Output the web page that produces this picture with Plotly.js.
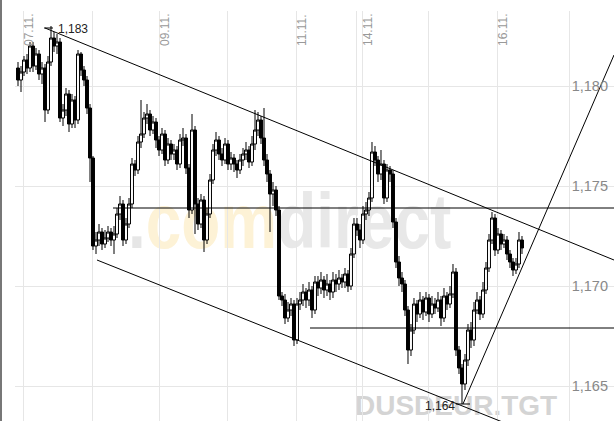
<!DOCTYPE html>
<html>
<head>
<meta charset="utf-8">
<script src="https://cdn.plot.ly/plotly-3.0.1.min.js"></script>
<style>
  html, body { margin:0; padding:0; background:#fff; }
  #wrap { position:relative; width:614px; height:421px; overflow:hidden; background:#fff; }
  #wm { position:absolute; left:0; top:0; width:614px; height:421px; z-index:0; font-family:"Liberation Sans", Arial, sans-serif; font-weight:bold; }
  #chart { position:absolute; left:0; top:0; width:614px; height:421px; z-index:1; }
  #border { position:absolute; left:0; top:0; width:2px; height:421px; background:#777; z-index:2; }
  .wmtext { position:absolute; white-space:nowrap; line-height:1; }
</style>
</head>
<body>
<div id="wrap">
  <div id="wm">
    <span class="wmtext" style="left:128px;top:183px;font-size:77px;transform:scaleX(0.83);transform-origin:left top;"><span style="color:#e6e6e6;">.</span><span style="color:#fdf2d6;">com</span><span style="color:#e8e8e8;">direct</span></span>
    <span class="wmtext" style="left:355px;top:392px;font-size:28px;color:#d4d4d4;">DUSDEUR.TGT</span>
  </div>
  <div id="chart"></div>
  <div id="border"></div>
</div>
<script>
// ---- OHLC data (EUR/USD style quotes, hourly-ish candles) ----
const open = [
1.1809,1.1803,1.1807,1.1813,1.1809,1.1820,1.1810,1.1816,1.1806,1.1809,
1.1788,1.1812,1.1824,1.1820,1.1822,1.1784,1.1788,1.1796,1.1781,1.1793,
1.1783,1.1816,1.1808,1.1803,1.1789,1.1764,1.1720,1.1723,1.1727,1.1721,
1.1724,1.1727,1.1723,1.1726,1.1736,1.1741,1.1723,1.1731,1.1741,1.1761,
1.1758,1.1772,1.1776,1.1784,1.1786,1.1778,1.1782,1.1773,1.1768,1.1776,
1.1763,1.1771,1.1766,1.1768,1.1761,1.1773,1.1774,1.1759,1.1738,1.1778,
1.1741,1.1731,1.1743,1.1723,1.1736,1.1753,1.1768,1.1773,1.1766,1.1763,
1.1771,1.1761,1.1764,1.1761,1.1758,1.1763,1.1766,1.1768,1.1762,1.1771,
1.1778,1.1783,1.1774,1.1763,1.1756,1.1746,1.1748,1.1738,1.1695,1.1693,
1.1684,1.1688,1.1691,1.1673,1.1691,1.1693,1.1697,1.1693,1.1698,1.1688,
1.1702,1.1699,1.1703,1.1698,1.1701,1.1697,1.1703,1.1701,1.1704,1.1702,
1.1706,1.1700,1.1716,1.1731,1.1728,1.1723,1.1736,1.1738,1.1744,1.1767,
1.1763,1.1756,1.1761,1.1744,1.1758,1.1756,1.1732,1.1712,1.1704,1.1701,
1.1688,1.1668,1.1678,1.1691,1.1686,1.1693,1.1687,1.1694,1.1686,1.1691,
1.1689,1.1693,1.1684,1.1695,1.1691,1.1696,1.1707,1.1668,1.1659,1.1651,
1.1663,1.1678,1.1673,1.1688,1.1693,1.1686,1.1698,1.1709,1.1723,1.1734,
1.1718,1.1726,1.1721,1.1723,1.1716,1.1712,1.1708,1.1711,1.1723
];
const high = [
1.1812,1.1810,1.1815,1.1816,1.1822,1.1822,1.1819,1.1818,1.1812,1.1811,
1.1815,1.1830,1.1827,1.1826,1.1824,1.1791,1.1799,1.1798,1.1796,1.1795,
1.1818,1.1817,1.1810,1.1805,1.1791,1.1765,1.1727,1.1731,1.1729,1.1728,
1.1730,1.1729,1.1730,1.1739,1.1745,1.1743,1.1734,1.1744,1.1764,1.1763,
1.1775,1.1793,1.1787,1.1791,1.1788,1.1785,1.1784,1.1775,1.1779,1.1778,
1.1774,1.1773,1.1771,1.1770,1.1776,1.1779,1.1776,1.1761,1.1786,1.1780,
1.1744,1.1746,1.1745,1.1739,1.1756,1.1771,1.1777,1.1775,1.1769,1.1774,
1.1773,1.1767,1.1766,1.1763,1.1766,1.1769,1.1772,1.1770,1.1775,1.1788,
1.1787,1.1785,1.1789,1.1766,1.1758,1.1752,1.1750,1.1740,1.1697,1.1696,
1.1692,1.1694,1.1693,1.1694,1.1697,1.1701,1.1699,1.1702,1.1700,1.1705,
1.1705,1.1707,1.1705,1.1706,1.1703,1.1707,1.1706,1.1708,1.1706,1.1709,
1.1708,1.1719,1.1734,1.1734,1.1731,1.1740,1.1742,1.1747,1.1772,1.1770,
1.1765,1.1768,1.1763,1.1761,1.1760,1.1758,1.1734,1.1715,1.1707,1.1703,
1.1690,1.1681,1.1694,1.1693,1.1697,1.1695,1.1697,1.1696,1.1695,1.1694,
1.1697,1.1695,1.1699,1.1697,1.1700,1.1711,1.1709,1.1670,1.1661,1.1666,
1.1681,1.1682,1.1692,1.1697,1.1695,1.1702,1.1712,1.1726,1.1737,1.1736,
1.1729,1.1728,1.1726,1.1725,1.1718,1.1714,1.1714,1.1727,1.1725
];
const low = [
1.1800,1.1797,1.1805,1.1806,1.1807,1.1807,1.1808,1.1803,1.1801,1.1782,
1.1786,1.1810,1.1817,1.1816,1.1782,1.1780,1.1785,1.1777,1.1779,1.1779,
1.1781,1.1805,1.1800,1.1786,1.1752,1.1718,1.1716,1.1720,1.1718,1.1719,
1.1722,1.1720,1.1716,1.1724,1.1733,1.1720,1.1721,1.1729,1.1739,1.1755,
1.1756,1.1769,1.1774,1.1781,1.1775,1.1776,1.1769,1.1765,1.1766,1.1760,
1.1761,1.1763,1.1763,1.1758,1.1759,1.1770,1.1756,1.1734,1.1736,1.1726,
1.1728,1.1729,1.1717,1.1721,1.1734,1.1751,1.1765,1.1763,1.1760,1.1761,
1.1758,1.1758,1.1757,1.1754,1.1756,1.1760,1.1763,1.1759,1.1760,1.1768,
1.1775,1.1771,1.1760,1.1752,1.1727,1.1740,1.1735,1.1693,1.1690,1.1681,
1.1682,1.1685,1.1670,1.1671,1.1688,1.1690,1.1689,1.1690,1.1684,1.1686,
1.1695,1.1696,1.1694,1.1695,1.1693,1.1694,1.1697,1.1698,1.1699,1.1699,
1.1697,1.1698,1.1714,1.1725,1.1719,1.1721,1.1733,1.1735,1.1742,1.1760,
1.1752,1.1753,1.1741,1.1742,1.1752,1.1729,1.1709,1.1700,1.1697,1.1685,
1.1661,1.1665,1.1676,1.1682,1.1684,1.1683,1.1685,1.1682,1.1684,1.1686,
1.1687,1.1680,1.1682,1.1688,1.1689,1.1694,1.1665,1.1656,1.1641,1.1648,
1.1660,1.1669,1.1670,1.1686,1.1683,1.1684,1.1696,1.1707,1.1721,1.1715,
1.1716,1.1718,1.1719,1.1713,1.1709,1.1705,1.1706,1.1709,1.1716
];
const close = [
1.1803,1.1807,1.1813,1.1809,1.1820,1.1810,1.1816,1.1806,1.1809,1.1788,
1.1812,1.1824,1.1820,1.1822,1.1784,1.1788,1.1796,1.1781,1.1793,1.1783,
1.1816,1.1808,1.1803,1.1789,1.1764,1.1720,1.1723,1.1727,1.1721,1.1724,
1.1727,1.1723,1.1726,1.1736,1.1741,1.1723,1.1731,1.1741,1.1761,1.1758,
1.1772,1.1776,1.1784,1.1786,1.1778,1.1782,1.1773,1.1768,1.1776,1.1763,
1.1771,1.1766,1.1768,1.1761,1.1773,1.1774,1.1759,1.1738,1.1778,1.1741,
1.1731,1.1743,1.1723,1.1736,1.1753,1.1768,1.1773,1.1766,1.1763,1.1771,
1.1761,1.1764,1.1761,1.1758,1.1763,1.1766,1.1768,1.1762,1.1771,1.1778,
1.1783,1.1774,1.1763,1.1756,1.1746,1.1748,1.1738,1.1695,1.1693,1.1684,
1.1688,1.1691,1.1673,1.1691,1.1693,1.1697,1.1693,1.1698,1.1688,1.1702,
1.1699,1.1703,1.1698,1.1701,1.1697,1.1703,1.1701,1.1704,1.1702,1.1706,
1.1700,1.1716,1.1731,1.1728,1.1723,1.1736,1.1738,1.1744,1.1767,1.1763,
1.1756,1.1761,1.1744,1.1758,1.1756,1.1732,1.1712,1.1704,1.1701,1.1688,
1.1668,1.1678,1.1691,1.1686,1.1693,1.1687,1.1694,1.1686,1.1691,1.1689,
1.1693,1.1684,1.1695,1.1691,1.1696,1.1707,1.1668,1.1659,1.1651,1.1663,
1.1678,1.1673,1.1688,1.1693,1.1686,1.1698,1.1709,1.1723,1.1734,1.1718,
1.1726,1.1721,1.1723,1.1716,1.1712,1.1708,1.1711,1.1723,1.1719
];

// ---- day separators and labels (candle-index positions) ----
const dayGrid = [1.67, 24.67, 47, 69.67, 92.67, 113, 114.67, 137, 159.67, 183.67];
const dateLabels = ['07.11.', '09.11.', '11.11.', '14.11.', '16.11.'];
const dateLabelPos = [1.67, 47, 92.67, 114.67, 159.67];
const yTicks = [1.165, 1.170, 1.175, 1.180];

// ---- drawn analysis lines (candle index, price) ----
const upperTrendX = [9, 198.67],      upperTrendY = [1.1829, 1.1713];
const lowerTrendX = [26.33, 164],     lowerTrendY = [1.1713, 1.16305];
const supportX    = [148.33, 198.67], supportY    = [1.1641, 1.18155];
const level1X     = [31.67, 198.67],  level1Y     = [1.1739, 1.1739];
const level2X     = [97.33, 198.67],  level2Y     = [1.1679, 1.1679];
const highMarkX   = [8.67, 11.67],    highMarkY   = [1.1829, 1.1829];
const lowMarkX    = [146, 150.67],    lowMarkY    = [1.1641, 1.1641];
const extremeLabels = ['1,183', '1,164'];
const extremeLabelX = [12.5, 146.3];
const extremeLabelY = [1.18285, 1.1640];

const xIdx = close.map((_, i) => i);

function line(x, y) {
  return { type:'scatter', mode:'lines', x:x, y:y, hoverinfo:'skip', showlegend:false,
           line:{ color:'#000', width:1 } };
}

const traces = [
  {
    type:'candlestick', x:xIdx, open:open, high:high, low:low, close:close,
    increasing:{ line:{ color:'#000', width:1 }, fillcolor:'#ffffff' },
    decreasing:{ line:{ color:'#000', width:1 }, fillcolor:'#000000' },
    whiskerwidth:0, hoverinfo:'skip', showlegend:false
  },
  line(upperTrendX, upperTrendY),
  line(lowerTrendX, lowerTrendY),
  line(supportX, supportY),
  line(level1X, level1Y),
  line(level2X, level2Y),
  line(highMarkX, highMarkY),
  line(lowMarkX, lowMarkY)
];

const annotations = [];
dateLabels.forEach((t, i) => {
  annotations.push({ text:t, xref:'x', x:dateLabelPos[i], yref:'paper', y:1, xanchor:'center', yanchor:'top',
    xshift:6, yshift:-1, textangle:-90, showarrow:false,
    font:{ family:'Liberation Sans, Arial, sans-serif', size:12, color:'#999' } });
});
annotations.push({ text:extremeLabels[0], xref:'x', x:extremeLabelX[0], yref:'y', y:extremeLabelY[0],
  xanchor:'left', yanchor:'middle', showarrow:false,
  font:{ family:'Liberation Sans, Arial, sans-serif', size:12, color:'#222' } });
annotations.push({ text:extremeLabels[1], xref:'x', x:extremeLabelX[1], yref:'y', y:extremeLabelY[1],
  xanchor:'right', yanchor:'middle', showarrow:false,
  font:{ family:'Liberation Sans, Arial, sans-serif', size:12, color:'#222' } });

const layout = {
  width:614, height:421,
  margin:{ l:15, r:0, t:11, b:0, pad:0 },
  paper_bgcolor:'rgba(0,0,0,0)', plot_bgcolor:'rgba(0,0,0,0)',
  separators:',.',
  showlegend:false,
  dragmode:false,
  boxgap:0.02, boxgroupgap:0,
  xaxis:{
    range:[-1, 198.67], tickmode:'array', tickvals:dayGrid, showticklabels:false,
    showgrid:true, gridcolor:'#e6e6e6', gridwidth:1, zeroline:false, showline:false, ticks:'',
    rangeslider:{ visible:false }, fixedrange:true
  },
  yaxis:{
    range:[1.16325, 1.18375], side:'right', tickmode:'array', tickvals:yTicks, tickformat:'.3f',
    ticklabelposition:'inside', ticks:'', ticklabelstandoff:3,
    tickfont:{ family:'Liberation Sans, Arial, sans-serif', size:14.5, color:'#888' },
    showgrid:true, gridcolor:'#e6e6e6', gridwidth:1, zeroline:false, showline:false, fixedrange:true
  },
  shapes:[
    { type:'rect', layer:'between', xref:'x', yref:'paper', x0:184, x1:200, y0:0, y1:1,
      fillcolor:'#ffffff', line:{ width:0 } }
  ],
  annotations:annotations
};

Plotly.newPlot('chart', traces, layout, { displayModeBar:false, staticPlot:true });
</script>
</body>
</html>
